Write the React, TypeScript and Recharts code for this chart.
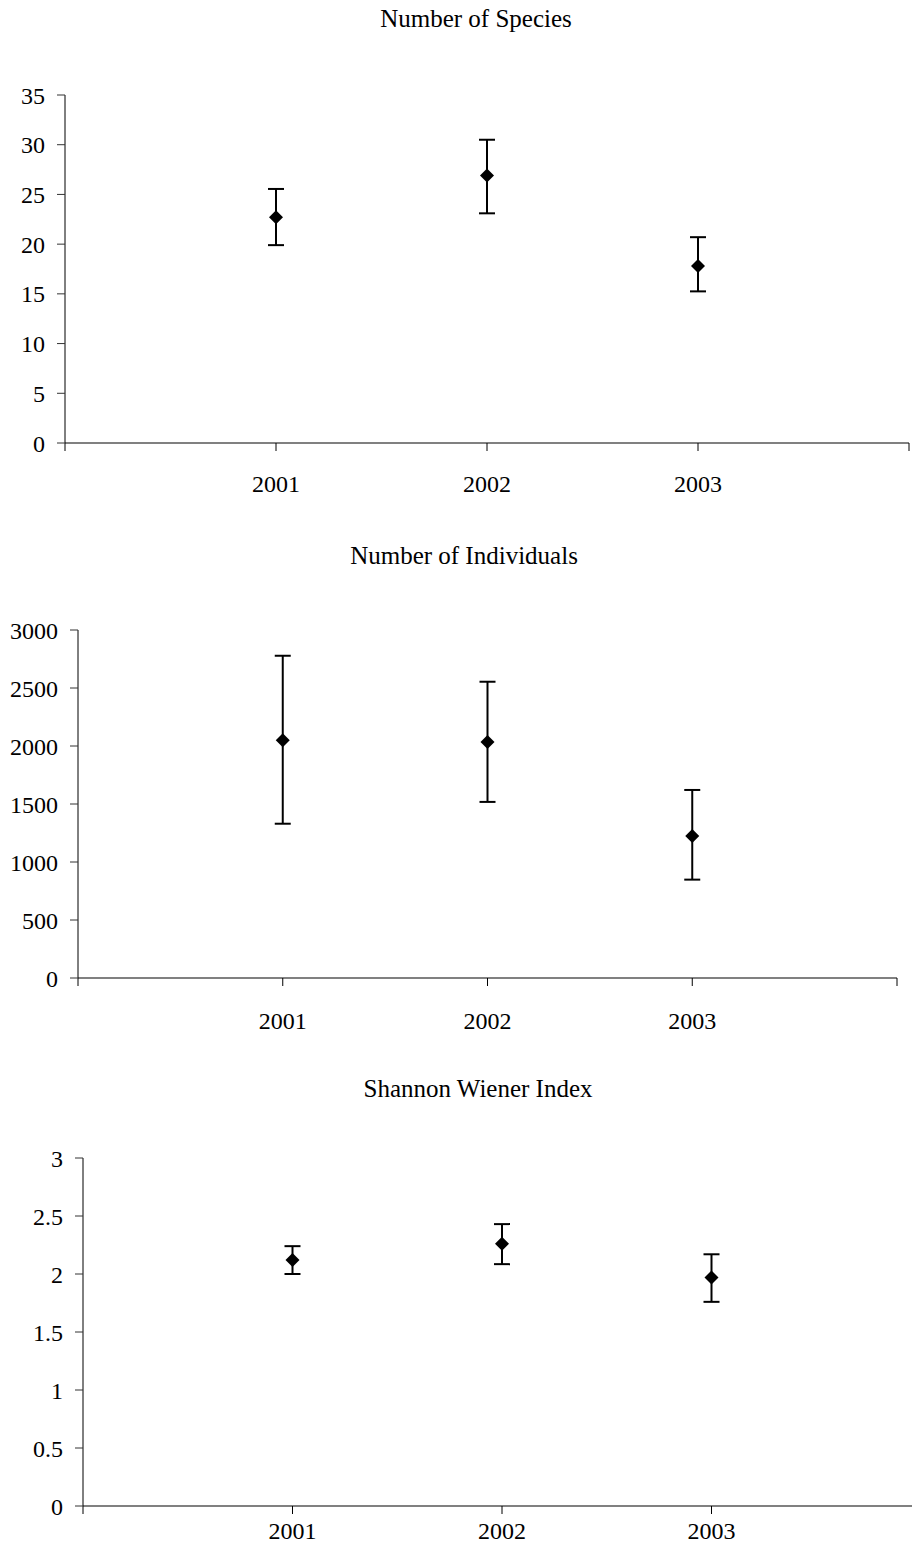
import React from 'react';
import { ScatterChart, Scatter, XAxis, YAxis, ErrorBar } from 'recharts';

// survey years, plotted at positions 1..3 on a 0..4 axis
const years = ['2001', '2002', '2003'];

const speciesMean = [22.7, 26.9, 17.8];
const speciesLow = [19.9, 23.1, 15.25];
const speciesHigh = [25.55, 30.5, 20.7];
const speciesTicks = [0, 5, 10, 15, 20, 25, 30, 35];

const individualsMean = [2050, 2035, 1225];
const individualsLow = [1330, 1518, 848];
const individualsHigh = [2778, 2554, 1621];
const individualsTicks = [0, 500, 1000, 1500, 2000, 2500, 3000];

const shannonMean = [2.12, 2.26, 1.97];
const shannonLow = [2.0, 2.085, 1.76];
const shannonHigh = [2.24, 2.43, 2.17];
const shannonTicks = [0, 0.5, 1, 1.5, 2, 2.5, 3];

const xTicks = [0, 1, 2, 3, 4];
const FONT = '"Liberation Serif", "Times New Roman", serif';
const W = 930;

const buildRows = (mean: number[], low: number[], high: number[]) =>
  mean.map((m, i) => ({ x: i + 1, y: m, err: [m - low[i], high[i] - m] }));

const Diamond = (props: any) => {
  const { cx, cy } = props;
  const r = 7;
  return (
    <polygon
      points={`${cx},${cy - r} ${cx + r},${cy} ${cx},${cy + r} ${cx - r},${cy}`}
      fill="#000"
    />
  );
};

type PanelProps = {
  title: string;
  titleX: number;
  titleBaseline: number;
  rows: { x: number; y: number; err: number[] }[];
  yTicks: number[];
  plotLeft: number;
  plotRight: number;
  plotTop: number;
  plotBottom: number;
  labelGap: number;
};

function Panel({ title, titleX, titleBaseline, rows, yTicks, plotLeft, plotRight, plotTop, plotBottom, labelGap }: PanelProps) {
  const height = plotBottom - plotTop + 80;
  return (
    <>
      <div
        style={{
          position: 'absolute',
          left: titleX - 200,
          width: 400,
          top: titleBaseline - 21,
          textAlign: 'center',
          fontFamily: FONT,
          fontSize: 25,
          lineHeight: '25px',
          color: '#000',
        }}
      >
        {title}
      </div>
      <div style={{ position: 'absolute', left: 0, top: plotTop - 20 }}>
        <ScatterChart width={W} height={height} margin={{ top: 20, right: W - plotRight, bottom: 0, left: 0 }}>
          <XAxis
            type="number"
            dataKey="x"
            domain={[0, 4]}
            ticks={xTicks}
            interval={0}
            tickFormatter={(v: number) => years[v - 1] ?? ''}
            height={60}
            tickSize={8}
            tickMargin={labelGap}
            axisLine={{ stroke: '#808080', strokeWidth: 2 }}
            tickLine={{ stroke: '#000' }}
            tick={{ fill: '#000', fontSize: 24, fontFamily: FONT }}
          />
          <YAxis
            type="number"
            dataKey="y"
            domain={[yTicks[0], yTicks[yTicks.length - 1]]}
            ticks={yTicks}
            interval={0}
            width={plotLeft}
            tickSize={8}
            tickMargin={12}
            axisLine={{ stroke: '#000' }}
            tickLine={{ stroke: '#333' }}
            tick={{ fill: '#000', fontSize: 24, fontFamily: FONT }}
          />
          <Scatter data={rows} shape={<Diamond />} isAnimationActive={false}>
            <ErrorBar dataKey="err" direction="y" width={8} stroke="#000" strokeWidth={2} />
          </Scatter>
        </ScatterChart>
      </div>
    </>
  );
}

export default function App() {
  return (
    <div
      style={{
        position: 'absolute',
        left: 0,
        top: 0,
        width: 912,
        height: 1557,
        overflow: 'hidden',
        background: '#fff',
      }}
    >
      <Panel
        title="Number of Species"
        titleX={476}
        titleBaseline={27}
        rows={buildRows(speciesMean, speciesLow, speciesHigh)}
        yTicks={speciesTicks}
        plotLeft={65}
        plotRight={909}
        plotTop={95}
        plotBottom={443}
        labelGap={24}
      />
      <Panel
        title="Number of Individuals"
        titleX={464}
        titleBaseline={564}
        rows={buildRows(individualsMean, individualsLow, individualsHigh)}
        yTicks={individualsTicks}
        plotLeft={78}
        plotRight={897}
        plotTop={630}
        plotBottom={978}
        labelGap={26}
      />
      <Panel
        title="Shannon Wiener Index"
        titleX={478}
        titleBaseline={1097}
        rows={buildRows(shannonMean, shannonLow, shannonHigh)}
        yTicks={shannonTicks}
        plotLeft={83}
        plotRight={921}
        plotTop={1158}
        plotBottom={1506}
        labelGap={8}
      />
    </div>
  );
}
